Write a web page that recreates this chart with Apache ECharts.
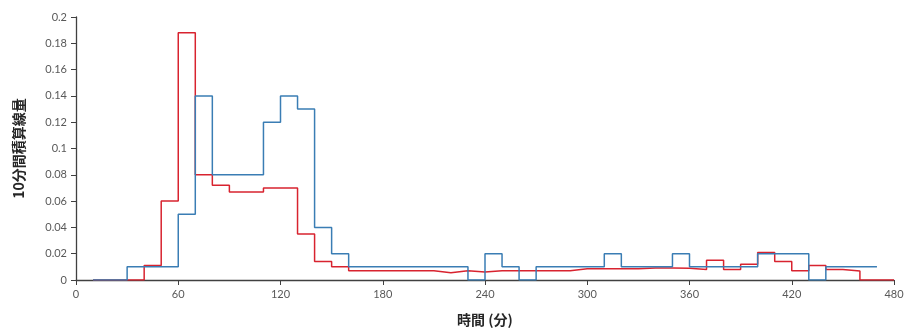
<!DOCTYPE html>
<html>
<head>
<meta charset="utf-8">
<script src="https://cdn.jsdelivr.net/npm/echarts@6/dist/echarts.min.js"></script>
<style>
html,body{margin:0;padding:0;background:#fff;}
#chart{width:912px;height:336px;}
</style>
</head>
<body>
<div id="chart"></div>
<script>
// Bin start times (minutes), 10-minute bins
var binStarts = [10,20,30,40,50,60,70,80,90,100,110,120,130,140,150,160,170,180,190,200,
  210,220,230,240,250,260,270,280,290,300,310,320,330,340,350,360,370,380,390,400,
  410,420,430,440,450,460,470];
var binWidth = 10;
// Blue series (bins 10 .. 460)
var blueValues = [0,0,0.01,0.01,0.01,0.05,0.14,0.08,0.08,0.08,0.12,0.14,0.13,0.04,0.02,
  0.01,0.01,0.01,0.01,0.01,0.01,0.01,0,0.02,0.01,0,0.01,0.01,0.01,0.01,
  0.02,0.01,0.01,0.01,0.02,0.01,0.01,0.01,0.01,0.02,0.02,0.02,0,0.01,0.01,0.01];
// Red series (bins 10 .. 470)
var redValues = [0,0,0,0.011,0.06,0.188,0.08,0.072,0.067,0.067,0.07,0.07,0.035,0.014,0.01,
  0.007,0.007,0.007,0.007,0.007,0.0055,0.007,0.006,0.007,0.007,0.007,0.007,0.007,0.0085,0.0085,
  0.0085,0.0085,0.0092,0.0092,0.009,0.008,0.015,0.008,0.012,0.021,0.014,0.007,0.011,0.008,0.0068,0,0];
var xTicks = [0,60,120,180,240,300,360,420,480];
var yTicks = [0,0.02,0.04,0.06,0.08,0.1,0.12,0.14,0.16,0.18,0.2];

function toSteps(vals){
  var d = vals.map(function(v,i){ return [binStarts[i], v]; });
  var n = vals.length;
  d.push([binStarts[n-1] + binWidth, vals[n-1]]);
  return d;
}

var chart = echarts.init(document.getElementById('chart'), null, {renderer:'canvas'});
var axisCol = '#404040';
var labelCol = '#595959';
chart.setOption({
  animation:false,
  backgroundColor:'#ffffff',
  grid:{left:76, right:18, top:17, bottom:56},
  xAxis:{
    type:'value', min:0, max:480, interval:60,
    name:'時間 (分)', nameLocation:'middle', nameGap:33,
    nameTextStyle:{fontFamily:'Noto Sans CJK JP', fontWeight:'bold', fontSize:14, color:'#262626'},
    axisLine:{lineStyle:{color:axisCol, width:1.3}},
    axisTick:{show:true, length:5, inside:false, lineStyle:{color:axisCol}},
    axisLabel:{color:labelCol, fontFamily:'Lato', fontSize:11, margin:9,
      formatter:function(v){ return xTicks.indexOf(v)>=0 ? String(v) : ''; }},
    splitLine:{show:false}
  },
  yAxis:{
    type:'value', min:0, max:0.2, interval:0.02,
    name:'10分間積算線量', nameLocation:'middle', nameGap:50,
    nameTextStyle:{fontFamily:'Noto Sans CJK JP', fontWeight:'bold', fontSize:14, color:'#262626'},
    axisLine:{show:true, lineStyle:{color:axisCol, width:1.3}},
    axisTick:{show:true, length:5, lineStyle:{color:axisCol}},
    axisLabel:{color:labelCol, fontFamily:'Lato', fontSize:11, margin:9,
      formatter:function(v){
        for (var i=0;i<yTicks.length;i++){ if (Math.abs(yTicks[i]-v)<1e-9) return String(yTicks[i]); }
        return '';
      }},
    splitLine:{show:false}
  },
  series:[
    {type:'line', name:'red', step:'end', showSymbol:false, symbol:'none',
      data:toSteps(redValues), lineStyle:{color:'#d8232f', width:1.5}, z:2},
    {type:'line', name:'blue', step:'end', showSymbol:false, symbol:'none',
      data:toSteps(blueValues), lineStyle:{color:'#3a7db4', width:1.5}, z:3}
  ]
});
</script>
</body>
</html>
